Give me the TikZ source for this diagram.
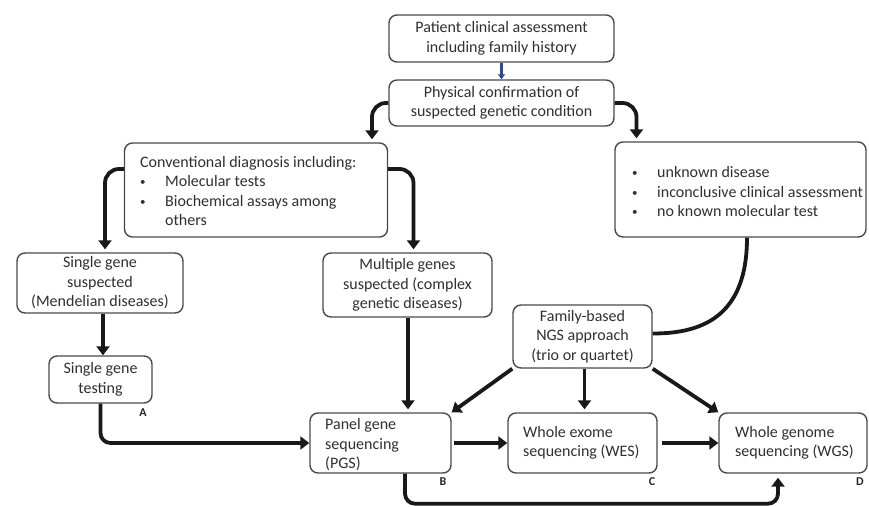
\documentclass[tikz,border=0pt]{standalone}
\usepackage{fontspec}
\setmainfont{Carlito}
\usetikzlibrary{arrows.meta,calc}
\definecolor{boxline}{HTML}{4A4A4A}
\definecolor{txtcol}{HTML}{303030}
\definecolor{arrblue}{HTML}{2B4C9B}
\tikzset{
  x=1pt, y=-1pt,
  box/.style={draw=boxline, line width=1.4pt, rounded corners=8pt, align=center,
    inner sep=0pt, text=txtcol, font=\fontsize{16}{19.5}\selectfont},
  txt/.style={inner sep=0pt, align=left, text=txtcol, font=\fontsize{16}{19.5}\selectfont},
  lab/.style={inner sep=0pt, text=black!85, font=\bfseries\fontsize{12}{14}\selectfont},
  bigarrow/.style={line width=3.8pt, draw=black!90, -{Triangle[length=9pt,width=13pt]}},
  bigline/.style={line width=3.8pt, draw=black!90},
  blueArrow/.style={line width=2.2pt, draw=arrblue, -{Triangle[length=5pt,width=7pt]}, color=arrblue}
}
\newcommand{\bul}[1]{\makebox[#1][l]{\raisebox{1pt}{\fontsize{11}{11}\selectfont •}}}
\begin{document}
\begin{tikzpicture}
\useasboundingbox (0,0) rectangle (869,506);
\fill[white] (0,0) rectangle (869,506);

% boxes
\node[box, minimum width=225pt, minimum height=47pt] (p1) at (501.5,38.5)
  {Patient clinical assessment\\including family history};
\node[box, minimum width=225pt, minimum height=46pt] (p2) at (501.5,103)
  {Physical confirmation of\\suspected genetic condition};
\node[box, minimum width=263pt, minimum height=94pt] (conv) at (256,190) {};
\node[txt, anchor=west] (convt) at (140,191)
  {Conventional diagnosis including:\\
   \bul{25pt}Molecular tests\\
   \bul{25pt}Biochemical assays among\\
   \hspace*{25pt}others};
\node[box, minimum width=251pt, minimum height=95pt] (unk) at (740.5,189.5) {};
\node[txt, anchor=west] (unkt) at (632,192)
  {\bul{25pt}unknown disease\\
   \bul{25pt}inconclusive clinical assessment\\
   \bul{25pt}no known molecular test};
\node[box, minimum width=166pt, minimum height=60pt] (sgs) at (100,283)
  {Single gene\\suspected\\(Mendelian diseases)};
\node[box, minimum width=103pt, minimum height=47pt] (sgt) at (100.5,379.5)
  {Single gene\\testing};
\node[box, minimum width=169pt, minimum height=64pt] (mult) at (407.5,285)
  {Multiple genes\\suspected (complex\\genetic diseases)};
\node[box, minimum width=139pt, minimum height=63pt] (fam) at (582.5,336.5)
  {Family-based\\NGS approach\\(trio or quartet)};
\node[box, minimum width=141pt, minimum height=60pt] (pgs) at (380.5,443) {};
\node[txt, anchor=west] (pgst) at (325,445) {Panel gene\\sequencing\\(PGS)};
\node[box, minimum width=149pt, minimum height=60pt] (wes) at (582.5,443) {};
\node[txt, anchor=west] (west) at (523,443) {Whole exome\\sequencing (WES)};
\node[box, minimum width=148pt, minimum height=60pt] (wgs) at (793,443) {};
\node[txt, anchor=west] (wgst) at (735,443) {Whole genome\\sequencing (WGS)};

% labels
\node[lab] (la) at (143,413) {A};
\node[lab] (lb) at (443,482) {B};
\node[lab] (lc) at (652,482) {C};
\node[lab] (ld) at (860,482) {D};

% connectors
\draw[blueArrow] (p1.south) -- (p2.north);
\draw[bigarrow, rounded corners=14pt] (p2.west) -| ($(conv.north)+(116,-3)$);
\draw[bigarrow, rounded corners=14pt] (p2.east) -| ($(unk.north)+(-104,-3)$);
\draw[bigarrow, rounded corners=14pt] ($(conv.west)+(0,-21)$) -| ($(sgs.north)+(5,-3)$);
\draw[bigarrow, rounded corners=14pt] ($(conv.east)+(0,-21)$) -| ($(mult.north)+(6,-3)$);
\draw[bigarrow] ($(sgs.south)+(3,0)$) -- ($(sgt.north)+(2.5,0)$);
\draw[bigarrow, rounded corners=10pt] (sgt.south) |- (pgs.west);
\draw[bigarrow] ($(mult.south)+(0.5,0)$) -- ($(mult.south |- pgs.north)+(0.5,-3)$);
\draw[bigarrow] (fam.south west) -- (pgs.north east);
\draw[bigarrow] ($(fam.south)+(2,0)$) -- ($(wes.north)+(2,-3)$);
\draw[bigarrow] (fam.south east) -- (wgs.north west);
\draw[bigline] ($(unk.south)+(6.5,0)$) .. controls +(0,80) and +(48,0) .. ($(fam.east)+(0,-3)$);
\draw[bigarrow] ($(pgs.east)+(2,0)$) -- (wes.west);
\draw[bigarrow] ($(wes.east)+(4,0)$) -- (wgs.west);
\draw[bigarrow, rounded corners=10pt] ($(pgs.south)+(24.5,0)$) -- ++(0,30) -| ($(wgs.south)+(-15,4)$);
\end{tikzpicture}
\end{document}
